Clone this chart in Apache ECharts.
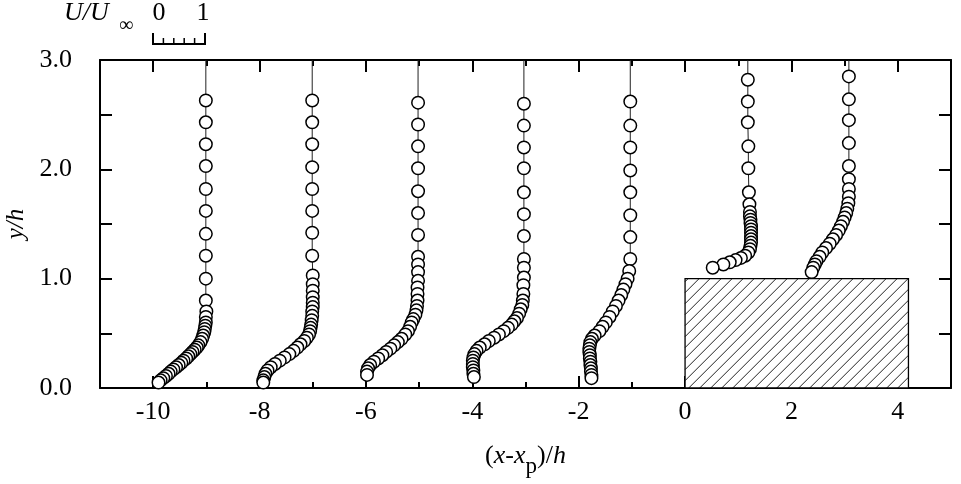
<!DOCTYPE html>
<html><head><meta charset="utf-8">
<script src="https://cdn.jsdelivr.net/npm/echarts@6/dist/echarts.min.js"></script>
<style>html,body{margin:0;padding:0;background:#fff}#c{width:961px;height:484px}</style>
</head><body><div id="c"></div>
<script>
// ---- data ----
const xTickLabels = [-10, -8, -6, -4, -2, 0, 2, 4];
const yTickLabels = [0, 1, 2, 3];
const stations = [-10, -8, -6, -4, -2, 0.2, 2.1];
const profileTop = 3.0;

const y_p1 = [2.63,2.43,2.23,2.03,1.82,1.62,1.41,1.21,1.00,0.80,0.70,0.65,0.60,0.57,0.54,0.51,0.48,0.45,0.42,0.39,0.37,0.35,0.33,0.31,0.29,0.27,0.25,0.23,0.21,0.19,0.17,0.15,0.13,0.11,0.09,0.07,0.05];
const u_p1 = [0.99,0.99,0.99,0.99,0.99,0.99,0.99,0.99,0.99,0.99,1.0,0.99,0.99,0.98,0.97,0.96,0.94,0.92,0.89,0.85,0.82,0.78,0.74,0.70,0.66,0.62,0.57,0.53,0.48,0.43,0.38,0.33,0.29,0.24,0.19,0.14,0.10];

const y_p2 = [2.63,2.43,2.23,2.02,1.82,1.62,1.42,1.21,1.03,0.95,0.89,0.83,0.78,0.74,0.70,0.66,0.62,0.58,0.55,0.52,0.49,0.46,0.43,0.40,0.37,0.34,0.31,0.28,0.25,0.22,0.19,0.16,0.13,0.10,0.07,0.05];
const u_p2 = [0.99,0.99,0.99,0.99,0.99,0.99,0.99,0.99,1.0,1.0,1.0,1.0,1.0,1.0,0.99,0.99,0.98,0.97,0.96,0.95,0.93,0.89,0.84,0.77,0.71,0.64,0.56,0.47,0.38,0.29,0.21,0.15,0.11,0.09,0.07,0.07];

const y_p3 = [2.61,2.41,2.21,2.01,1.80,1.60,1.40,1.20,1.13,1.06,0.98,0.92,0.86,0.80,0.75,0.71,0.67,0.63,0.60,0.56,0.52,0.49,0.45,0.42,0.39,0.36,0.33,0.30,0.27,0.24,0.21,0.18,0.15,0.12];
const u_p3 = [0.98,0.98,0.98,0.98,0.98,0.98,0.98,0.98,0.98,0.98,0.98,0.97,0.97,0.97,0.96,0.95,0.93,0.89,0.86,0.83,0.79,0.74,0.67,0.60,0.53,0.46,0.38,0.31,0.23,0.15,0.08,0.04,0.02,0.02];

const y_p4 = [2.60,2.40,2.20,2.01,1.79,1.59,1.39,1.18,1.10,1.01,0.94,0.86,0.80,0.76,0.72,0.68,0.64,0.61,0.58,0.55,0.52,0.49,0.46,0.43,0.40,0.37,0.34,0.31,0.28,0.25,0.22,0.19,0.16,0.13,0.10];
const u_p4 = [0.97,0.97,0.97,0.97,0.97,0.97,0.97,0.97,0.97,0.97,0.96,0.96,0.95,0.94,0.91,0.88,0.84,0.79,0.74,0.67,0.59,0.50,0.41,0.31,0.23,0.14,0.08,0.04,0.02,0.01,0.01,0.01,0.02,0.02,0.03];

const y_p5 = [2.62,2.40,2.20,1.99,1.79,1.58,1.38,1.18,1.07,1.00,0.95,0.90,0.85,0.80,0.75,0.70,0.65,0.60,0.56,0.52,0.48,0.45,0.42,0.39,0.36,0.33,0.30,0.27,0.24,0.21,0.18,0.15,0.12,0.09];
const u_p5 = [0.97,0.97,0.97,0.97,0.97,0.97,0.97,0.97,0.95,0.92,0.88,0.84,0.80,0.75,0.70,0.64,0.58,0.51,0.45,0.39,0.30,0.25,0.22,0.21,0.20,0.20,0.21,0.21,0.22,0.22,0.23,0.23,0.24,0.24];

const y_p6 = [2.82,2.62,2.43,2.21,2.01,1.79,1.68,1.61,1.57,1.54,1.51,1.48,1.45,1.42,1.39,1.36,1.33,1.30,1.27,1.24,1.21,1.19,1.17,1.15,1.13,1.10];
const u_p6 = [0.98,0.98,0.98,0.99,0.99,1.00,1.01,1.02,1.02,1.03,1.03,1.04,1.04,1.04,1.04,1.04,1.04,1.03,1.02,0.99,0.93,0.85,0.75,0.64,0.52,0.32];

const y_p7 = [2.85,2.64,2.45,2.24,2.03,1.91,1.82,1.75,1.69,1.64,1.60,1.56,1.52,1.48,1.44,1.40,1.36,1.32,1.28,1.24,1.20,1.16,1.13,1.10,1.06];
const u_p7 = [0.98,0.98,0.98,0.98,0.98,0.98,0.98,0.98,0.97,0.95,0.93,0.90,0.87,0.83,0.79,0.74,0.68,0.62,0.55,0.48,0.43,0.37,0.34,0.31,0.28];

const profilesY = [y_p1, y_p2, y_p3, y_p4, y_p5, y_p6, y_p7];
const profilesU = [u_p1, u_p2, u_p3, u_p4, u_p5, u_p6, u_p7];

const blockX = [0, 4.2];
const blockY = [0, 1.0];

// ---- chart ----
const FONT = '"Liberation Serif","Times New Roman",serif';
const FS = 26;
const chart = echarts.init(document.getElementById('c'), null, {renderer: 'canvas'});

const G = {left: 100, right: 10, top: 60, bottom: 96};
const unitPx = (961 - G.left - G.right) / 16;

const lineAxis = {show: true, onZero: false, lineStyle: {color: '#000', width: 2}};
const noLine = {show: false, onZero: false};
const tickStyle = {color: '#000', width: 2};

function profileSeries(i) {
  const st = stations[i], ys = profilesY[i], us = profilesU[i];
  const data = [{value: [st + us[0], profileTop], symbol: 'none'}];
  for (let k = 0; k < ys.length; k++) data.push([st + us[k], ys[k]]);
  return {
    type: 'line', xAxisIndex: 0, yAxisIndex: 0, data,
    symbol: 'circle', symbolSize: 12.5, showAllSymbol: true, clip: false,
    lineStyle: {color: '#222', width: 1},
    itemStyle: {color: '#fff', borderColor: '#000', borderWidth: 1.5},
    z: 3, animation: false
  };
}

const series = [];
series.push({
  type: 'custom', xAxisIndex: 0, yAxisIndex: 0, z: 2, animation: false,
  data: [[blockX[0], blockX[1], blockY[0], blockY[1]]],
  renderItem: function (params, api) {
    const p0 = api.coord([api.value(0), api.value(2)]);
    const p1 = api.coord([api.value(1), api.value(3)]);
    const x0 = p0[0], x1 = p1[0], yb = p0[1], yt = p1[1];
    const h = yb - yt;
    const children = [];
    children.push({type: 'rect', shape: {x: x0, y: yt, width: x1 - x0, height: h},
      style: {fill: '#fff', stroke: 'none'}});
    const sp = 11;
    for (let s = x0 - h + 3; s < x1; s += sp) {
      let t0 = Math.max(0, (x0 - s) / h), t1 = Math.min(1, (x1 - s) / h);
      if (t1 <= t0) continue;
      children.push({type: 'line', shape: {x1: s + t0 * h, y1: yb - t0 * h, x2: s + t1 * h, y2: yb - t1 * h},
        style: {stroke: '#222', lineWidth: 1}});
    }
    children.push({type: 'rect', shape: {x: x0, y: yt, width: x1 - x0, height: h},
      style: {fill: 'none', stroke: '#000', lineWidth: 1.3}});
    return {type: 'group', children};
  }
});
for (let i = 0; i < stations.length; i++) series.push(profileSeries(i));

const xLabel = {
  fontFamily: FONT, fontSize: FS, color: '#000', margin: 11,
  formatter: v => xTickLabels.includes(v) ? String(v) : ''
};

const gridBase = {top: G.top, bottom: G.bottom, containLabel: false, outerBoundsMode: 'none'};

const option = {
  backgroundColor: '#fff',
  animation: false,
  grid: [
    Object.assign({left: G.left, right: G.right}, gridBase),
    Object.assign({left: G.left + unitPx, right: G.right + unitPx}, gridBase)
  ],
  xAxis: [
    {type: 'value', gridIndex: 0, min: -11, max: 5, interval: 1, position: 'bottom',
     axisLine: lineAxis,
     axisTick: {inside: true, length: 6, lineStyle: tickStyle},
     axisLabel: xLabel, splitLine: {show: false},
     name: '{n|(}{i|x}{n|-}{i|x}{s|p}{n|)/}{i|h}', nameLocation: 'middle', nameGap: 55,
     nameTextStyle: {rich: {
       n: {fontFamily: FONT, fontSize: 26, color: '#000', lineHeight: 30, verticalAlign: 'top'},
       i: {fontFamily: FONT, fontSize: 26, fontStyle: 'italic', color: '#000', lineHeight: 30, verticalAlign: 'top'},
       s: {fontFamily: FONT, fontSize: 23, color: '#000', lineHeight: 30, padding: [12, 0, 0, 0], verticalAlign: 'top'}
     }}},
    {type: 'value', gridIndex: 0, min: -11, max: 5, interval: 1, position: 'top',
     axisLine: lineAxis,
     axisTick: {inside: true, length: 6, lineStyle: tickStyle},
     axisLabel: {show: false}, splitLine: {show: false}},
    {type: 'value', gridIndex: 1, min: -10, max: 4, interval: 2, position: 'bottom',
     axisLine: noLine, axisTick: {inside: true, length: 12, lineStyle: tickStyle},
     axisLabel: {show: false}, splitLine: {show: false}},
    {type: 'value', gridIndex: 1, min: -10, max: 4, interval: 2, position: 'top',
     axisLine: noLine, axisTick: {inside: true, length: 12, lineStyle: tickStyle},
     axisLabel: {show: false}, splitLine: {show: false}}
  ],
  yAxis: [
    {type: 'value', gridIndex: 0, min: 0, max: 3, interval: 0.5, position: 'left',
     axisLine: lineAxis,
     axisTick: {inside: true, length: 12, lineStyle: tickStyle},
     axisLabel: {fontFamily: FONT, fontSize: FS, color: '#000', margin: 28,
       formatter: v => yTickLabels.includes(v) ? v.toFixed(1) : ''},
     splitLine: {show: false},
     name: 'y/h', nameLocation: 'middle', nameGap: 70, nameRotate: 90,
     nameTextStyle: {fontFamily: FONT, fontSize: 25, fontStyle: 'italic', color: '#000'}},
    {type: 'value', gridIndex: 0, min: 0, max: 3, interval: 0.5, position: 'right',
     axisLine: lineAxis,
     axisTick: {inside: true, length: 12, lineStyle: tickStyle},
     axisLabel: {show: false}, splitLine: {show: false}},
    {type: 'value', gridIndex: 1, min: 0, max: 3, show: false, axisLine: noLine}
  ],
  series,
  graphic: [
    {type: 'text', left: 64, top: 0, style: {text: 'U/U', font: 'italic 26px ' + FONT, fill: '#000'}},
    {type: 'text', left: 119, top: 16, style: {text: '∞', font: '20px ' + FONT, fill: '#000'}},
    {type: 'text', x: 159, y: 13, style: {text: '0', font: FS + 'px ' + FONT, fill: '#000', align: 'center', verticalAlign: 'middle'}},
    {type: 'text', x: 203, y: 13, style: {text: '1', font: FS + 'px ' + FONT, fill: '#000', align: 'center', verticalAlign: 'middle'}},
    {type: 'polyline', shape: {points: [[153, 33], [153, 44], [205, 44], [205, 33]]}, style: {stroke: '#000', lineWidth: 2, fill: 'none'}},
    {type: 'line', shape: {x1: 163.4, y1: 44, x2: 163.4, y2: 38}, style: {stroke: '#000', lineWidth: 1.5}},
    {type: 'line', shape: {x1: 173.8, y1: 44, x2: 173.8, y2: 38}, style: {stroke: '#000', lineWidth: 1.5}},
    {type: 'line', shape: {x1: 184.2, y1: 44, x2: 184.2, y2: 38}, style: {stroke: '#000', lineWidth: 1.5}},
    {type: 'line', shape: {x1: 194.6, y1: 44, x2: 194.6, y2: 38}, style: {stroke: '#000', lineWidth: 1.5}}
  ]
};
chart.setOption(option);
</script>
</body></html>
